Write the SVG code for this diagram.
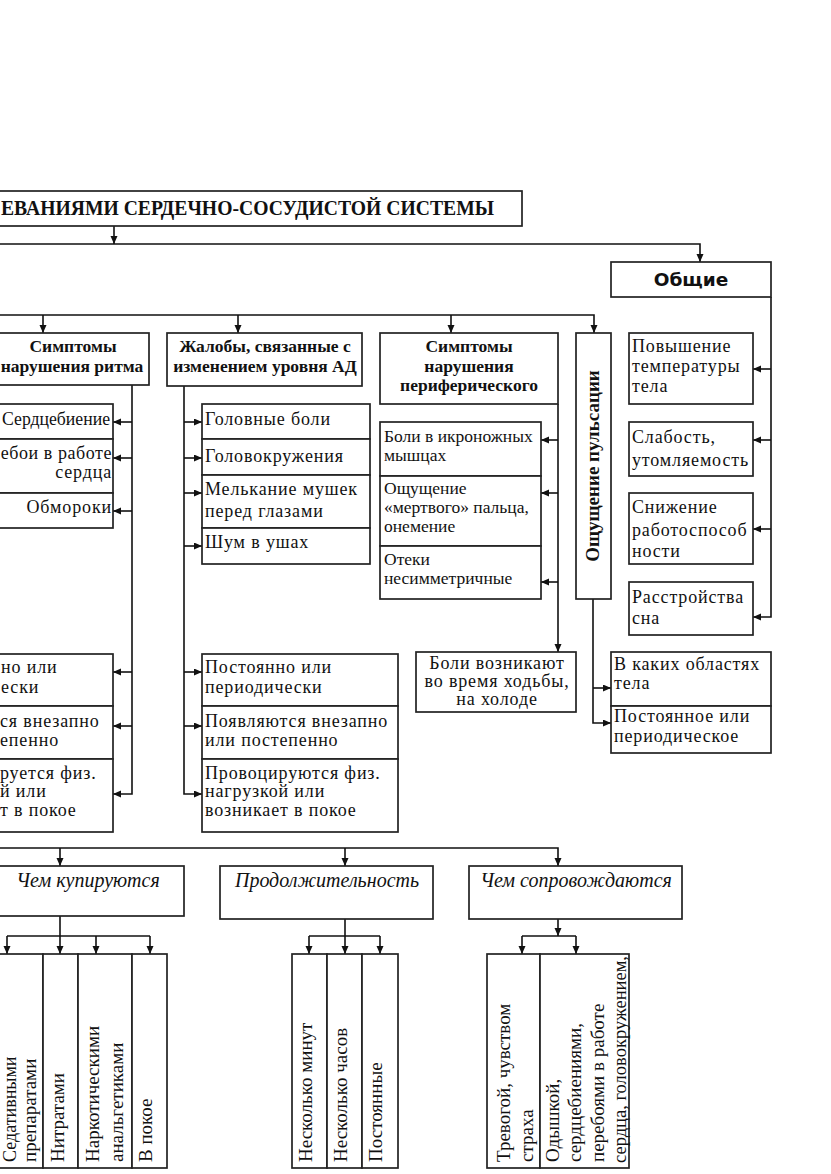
<svg xmlns="http://www.w3.org/2000/svg" width="831" height="1174" viewBox="0 0 831 1174">
<defs>
<marker id="ah" markerUnits="userSpaceOnUse" markerWidth="9" markerHeight="8" refX="8" refY="3.5" orient="auto">
<path d="M0,0 L8,3.5 L0,7 z" fill="#111"/>
</marker>
<style>
rect{fill:#fff;stroke:#222;stroke-width:1.7}
.c path{fill:none;stroke:#111;stroke-width:1.6}
.a{marker-end:url(#ah)}
text{font-family:"Liberation Serif","Times New Roman",serif;fill:#111}
.t{font-size:18px;letter-spacing:0.85px}
.n{letter-spacing:0.55px}
.v{font-size:19px}
.s{font-size:17.5px}
.b{font-size:17.5px;font-weight:bold}
.h{font-size:20px;font-weight:bold}
.i{font-size:20px;font-style:italic}
.m{text-anchor:middle}
.e{text-anchor:end}
.g{font-family:"DejaVu Sans","Liberation Sans",sans-serif;font-weight:bold;font-size:18.5px}
</style>
</defs>
<rect x="-2" y="-2" width="835" height="1178" style="fill:#fff;stroke:none"/>

<g class="c">
<path class="a" d="M114,226 V244"/>
<path class="a" d="M0,244 H700 V262"/>
<path class="a" d="M0,315 H594 V333"/>
<path class="a" d="M43,315 V333"/>
<path class="a" d="M238,315 V333"/>
<path class="a" d="M451,315 V333"/>
<path class="a" d="M132,385 V794 H113"/>
<path class="a" d="M132,422 H113"/>
<path class="a" d="M132,458 H113"/>
<path class="a" d="M132,511 H113"/>
<path class="a" d="M132,672 H113"/>
<path class="a" d="M132,726 H113"/>
<path class="a" d="M184,386 V794 H202"/>
<path class="a" d="M184,422 H202"/>
<path class="a" d="M184,458 H202"/>
<path class="a" d="M184,493 H202"/>
<path class="a" d="M184,546 H202"/>
<path class="a" d="M184,672 H202"/>
<path class="a" d="M184,726 H202"/>
<path class="a" d="M558,404 V652"/>
<path class="a" d="M558,440 H541"/>
<path class="a" d="M558,493 H541"/>
<path class="a" d="M558,582 H541"/>
<path class="a" d="M593,599 V723 H611"/>
<path class="a" d="M593,688 H611"/>
<path class="a" d="M771,297 V617 H753"/>
<path class="a" d="M771,369 H753"/>
<path class="a" d="M771,440 H753"/>
<path class="a" d="M771,529 H753"/>
<path class="a" d="M0,848 H558 V866"/>
<path class="a" d="M60,848 V866"/>
<path class="a" d="M345,848 V866"/>
<path class="a" d="M60,916 V954"/>
<path d="M7,936 H150"/>
<path class="a" d="M7,936 V954"/>
<path class="a" d="M96,936 V954"/>
<path class="a" d="M150,936 V954"/>
<path class="a" d="M345,919 V954"/>
<path d="M309,936 H380"/>
<path class="a" d="M309,936 V954"/>
<path class="a" d="M380,936 V954"/>
<path class="a" d="M558,919 V936"/>
<path d="M522,936 H576"/>
<path class="a" d="M522,936 V954"/>
<path class="a" d="M576,936 V954"/>
</g>

<g id="title">
<rect x="-10" y="191" width="532" height="35"/>
<text class="h" x="1" y="215" textLength="493" lengthAdjust="spacingAndGlyphs">ЕВАНИЯМИ СЕРДЕЧНО-СОСУДИСТОЙ СИСТЕМЫ</text>
</g>

<g id="obshie">
<rect x="611" y="262" width="160" height="35"/>
<text class="g m" x="691" y="286">Общие</text>
</g>

<g id="ritm">
<rect x="-1" y="333" width="150" height="52"/>
<text class="b m" x="73" y="352">Симптомы</text>
<text class="b m" x="72" y="372">нарушения ритма</text>
</g>

<g id="ad">
<rect x="167" y="333" width="195" height="53"/>
<text class="b m" x="265" y="352">Жалобы, связанные с</text>
<text class="b m" x="265" y="372">изменением уровня АД</text>
</g>

<g id="perif">
<rect x="380" y="333" width="178" height="71"/>
<text class="b m" x="469" y="352">Симптомы</text>
<text class="b m" x="469" y="372">нарушения</text>
<text class="b m" x="469" y="391">периферического</text>
</g>

<g id="puls">
<rect x="576" y="333" width="35" height="266"/>
<text class="m" style="font-size:19px;font-weight:bold" transform="translate(599,466) rotate(-90)">Ощущение пульсации</text>
</g>

<g id="temp">
<rect x="629" y="333" width="124" height="71"/>
<text class="t" x="632" y="352">Повышение</text>
<text class="t" x="632" y="372">температуры</text>
<text class="t" x="632" y="392">тела</text>
</g>
<g id="slab">
<rect x="629" y="422" width="124" height="54"/>
<text class="t" x="632" y="443">Слабость,</text>
<text class="t" x="632" y="466">утомляемость</text>
</g>
<g id="snizh">
<rect x="629" y="493" width="124" height="71"/>
<text class="t" x="632" y="513">Снижение</text>
<text class="t" x="632" y="536">работоспособ</text>
<text class="t" x="632" y="557">ности</text>
</g>
<g id="son">
<rect x="629" y="582" width="124" height="53"/>
<text class="t" x="632" y="603">Расстройства</text>
<text class="t" x="632" y="624">сна</text>
</g>

<g id="serdceb">
<rect x="-20" y="404" width="133" height="35"/>
<text style="font-size:18px" x="2" y="425" textLength="108" lengthAdjust="spacingAndGlyphs">Сердцебиение</text>
</g>
<g id="pereboi">
<rect x="-20" y="439" width="133" height="54"/>
<text class="t n e" x="112" y="459">ебои в работе</text>
<text class="t e" x="112" y="478">сердца</text>
</g>
<g id="obmor">
<rect x="-20" y="493" width="133" height="35"/>
<text class="t e" x="112" y="513">Обмороки</text>
</g>

<g id="r1">
<rect x="-20" y="654" width="133" height="52"/>
<text class="t" x="1" y="673">но или</text>
<text class="t" x="1" y="693">ески</text>
</g>
<g id="r2">
<rect x="-20" y="706" width="133" height="53"/>
<text class="t" x="0" y="727">ся внезапно</text>
<text class="t" x="0" y="746">епенно</text>
</g>
<g id="r3">
<rect x="-20" y="759" width="133" height="73"/>
<text class="t" x="0" y="779">руется физ.</text>
<text class="t" x="0" y="797">й или</text>
<text class="t" x="0" y="816">т в покое</text>
</g>

<g id="golov">
<rect x="202" y="404" width="168" height="35"/>
<text class="t" x="205" y="425">Головные боли</text>
</g>
<g id="golovokr">
<rect x="202" y="439" width="168" height="36"/>
<text class="t" x="205" y="462">Головокружения</text>
</g>
<g id="melk">
<rect x="202" y="475" width="168" height="53"/>
<text class="t" x="205" y="495">Мелькание мушек</text>
<text class="t" x="205" y="517">перед глазами</text>
</g>
<g id="shum">
<rect x="202" y="528" width="168" height="36"/>
<text class="t" x="205" y="548">Шум в ушах</text>
</g>

<g id="a1">
<rect x="202" y="654" width="196" height="52"/>
<text class="t" x="205" y="673">Постоянно или</text>
<text class="t" x="205" y="693">периодически</text>
</g>
<g id="a2">
<rect x="202" y="706" width="196" height="53"/>
<text class="t" x="205" y="727">Появляются внезапно</text>
<text class="t" x="205" y="746">или постепенно</text>
</g>
<g id="a3">
<rect x="202" y="759" width="196" height="73"/>
<text class="t" x="205" y="779">Провоцируются физ.</text>
<text class="t" x="205" y="797">нагрузкой или</text>
<text class="t" x="205" y="816">возникает в покое</text>
</g>

<g id="ikr">
<rect x="380" y="422" width="161" height="54"/>
<text class="s" x="384" y="442">Боли в икроножных</text>
<text class="s" x="384" y="461">мышцах</text>
</g>
<g id="mertv">
<rect x="380" y="476" width="161" height="70"/>
<text class="s" x="384" y="494">Ощущение</text>
<text class="s" x="384" y="513">«мертвого» пальца,</text>
<text class="s" x="384" y="532">онемение</text>
</g>
<g id="oteki">
<rect x="380" y="546" width="161" height="53"/>
<text class="s" x="384" y="565">Отеки</text>
<text class="s" x="384" y="584">несимметричные</text>
</g>

<g id="hodba">
<rect x="416" y="652" width="160" height="60"/>
<text class="t m" x="497" y="669">Боли возникают</text>
<text class="t m" x="497" y="687">во время ходьбы,</text>
<text class="t m" x="497" y="705">на холоде</text>
</g>

<g id="oblast">
<rect x="611" y="652" width="160" height="54"/>
<text class="t" x="614" y="670">В каких областях</text>
<text class="t" x="614" y="689">тела</text>
</g>
<g id="postoyan">
<rect x="611" y="706" width="160" height="47"/>
<text class="t" x="614" y="722">Постоянное или</text>
<text class="t" x="614" y="742">периодическое</text>
</g>

<g id="kupir">
<rect x="-10" y="866" width="194" height="50"/>
<text class="i m" x="88" y="887">Чем купируются</text>
</g>
<g id="prodol">
<rect x="220" y="866" width="213" height="53"/>
<text class="i m" x="327" y="887">Продолжительность</text>
</g>
<g id="soprov">
<rect x="469" y="866" width="213" height="53"/>
<text class="i m" x="576" y="887">Чем сопровождаются</text>
</g>

<g id="k1">
<rect x="-20" y="954" width="63" height="214"/>
<text style="font-size:18px" transform="translate(16,1162) rotate(-90)">Седативными</text>
<text class="v" transform="translate(36,1162) rotate(-90)">препаратами</text>
</g>
<g id="k2">
<rect x="43" y="954" width="35" height="214"/>
<text class="v" transform="translate(64,1162) rotate(-90)">Нитратами</text>
</g>
<g id="k3">
<rect x="78" y="954" width="54" height="214"/>
<text class="v" transform="translate(99,1162) rotate(-90)">Наркотическими</text>
<text class="v" transform="translate(123,1162) rotate(-90)">анальгетиками</text>
</g>
<g id="k4">
<rect x="132" y="954" width="35" height="214"/>
<text class="v" transform="translate(152,1162) rotate(-90)">В покое</text>
</g>

<g id="p1">
<rect x="292" y="954" width="35" height="214"/>
<text class="v" transform="translate(312,1162) rotate(-90)">Несколько минут</text>
</g>
<g id="p2">
<rect x="327" y="954" width="35" height="214"/>
<text class="v" transform="translate(347,1162) rotate(-90)">Несколько часов</text>
</g>
<g id="p3">
<rect x="362" y="954" width="36" height="214"/>
<text class="v" transform="translate(382,1162) rotate(-90)">Постоянные</text>
</g>

<g id="s1">
<rect x="487" y="954" width="53" height="214"/>
<text class="v" transform="translate(510,1162) rotate(-90)">Тревогой, чувством</text>
<text class="v" transform="translate(533,1162) rotate(-90)">страха</text>
</g>
<g id="s2">
<rect x="540" y="954" width="89" height="214"/>
<text class="v" transform="translate(559,1162) rotate(-90)">Одышкой,</text>
<text class="v" transform="translate(581,1162) rotate(-90)">сердцебиениями,</text>
<text class="v" transform="translate(604,1162) rotate(-90)">перебоями в работе</text>
<text style="font-size:18.5px" transform="translate(626,1163) rotate(-90)">сердца, головокружением,</text>
</g>
</svg>
